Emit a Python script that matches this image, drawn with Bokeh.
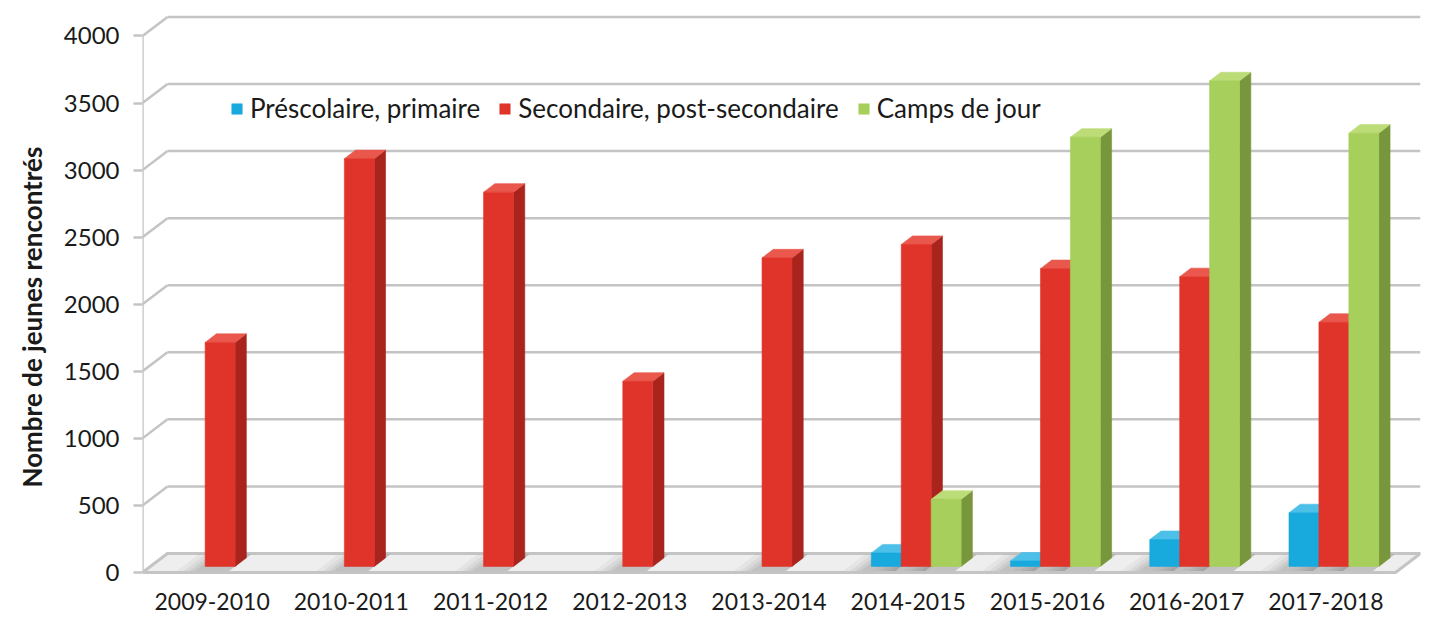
from bokeh.plotting import figure
from bokeh.models import FixedTicker, Range1d, Title, Legend, LegendItem, ColumnDataSource
from bokeh.embed import file_html
from bokeh.resources import INLINE

# ---------------- data ----------------
categories = ["2009-2010", "2010-2011", "2011-2012", "2012-2013", "2013-2014",
              "2014-2015", "2015-2016", "2016-2017", "2017-2018"]
series_names = ["Préscolaire, primaire", "Secondaire, post-secondaire", "Camps de jour"]
prescolaire = [0, 0, 0, 0, 0, 100, 40, 200, 400]
secondaire = [1670, 3040, 2790, 1380, 2300, 2400, 2220, 2160, 1820]
camps = [0, 0, 0, 0, 0, 500, 3200, 3620, 3230]
y_ticks = [0, 500, 1000, 1500, 2000, 2500, 3000, 3500, 4000]
y_title = "Nombre de jeunes rencontrés"

# ---------------- style / geometry ----------------
FONT = "Lato"
DX = 25 / 139.2          # depth offset in category units
DY = 19 / 0.13413        # depth offset in value units
F0, F1 = 0.32, 0.77      # bar front/back depth fractions
BAR_W = 0.215
OFFS = [-BAR_W, 0.0, BAR_W]
front_cols = ["#18a9dd", "#e0342b", "#a6cf5b"]
top_cols = ["#4cc0e8", "#e9574d", "#bcdc78"]
side_cols = ["#0e82ad", "#a8241c", "#78963b"]
GRID = "#c4c4c4"

n = len(categories)
p = figure(width=1422, height=620, output_backend="svg", toolbar_location=None,
           x_range=Range1d(-0.5, n - 0.5 + DX), y_range=Range1d(-30, 4160),
           min_border_left=142, min_border_right=2, min_border_top=14, min_border_bottom=44)
p.outline_line_color = None
p.xgrid.visible = False
p.ygrid.visible = False
p.background_fill_color = "white"
p.border_fill_color = "white"

# ----- walls -----
x_left = -0.5
x_right = n - 0.5
p.segment(x0=[x_left + DX] * len(y_ticks), x1=[x_right + DX] * len(y_ticks),
          y0=[v + DY for v in y_ticks], y1=[v + DY for v in y_ticks],
          line_color=GRID, line_width=2.5)
p.segment(x0=[x_left] * len(y_ticks), x1=[x_left + DX] * len(y_ticks),
          y0=y_ticks, y1=[v + DY for v in y_ticks], line_color=GRID, line_width=2.5)
p.segment(x0=[x_left], x1=[x_left], y0=[0], y1=[y_ticks[-1]], line_color=GRID, line_width=2.5)

# ----- floor -----
p.patch([x_left, x_right, x_right + DX, x_left + DX], [0, 0, DY, DY],
        fill_color="#eeeeee", line_color="#c4c4c4", line_width=3)

all_series = [prescolaire, secondaire, camps]

# ----- shadows -----
for spread, alpha in [(0.16, 0.08), (0.11, 0.09), (0.07, 0.10), (0.035, 0.12)]:
    sxs, sys_ = [], []
    for s, vals in enumerate(all_series):
        for i, v in enumerate(vals):
            if v <= 0:
                continue
            xl = i + OFFS[s] - BAR_W / 2
            xr = i + OFFS[s] + BAR_W / 2
            d0, d1 = 0.08, 0.95
            sxs.append([xl - spread + d0 * DX, xr + d0 * DX, xr + d1 * DX, xl - spread + d1 * DX])
            sys_.append([d0 * DY, d0 * DY, d1 * DY, d1 * DY])
    p.patches(sxs, sys_, fill_color="#6f6f6f", fill_alpha=alpha, line_color=None)

# ----- bars -----
ddx = (F1 - F0) * DX
ddy = (F1 - F0) * DY
sides = {"xs": [], "ys": [], "c": []}
tops = {"xs": [], "ys": [], "c": []}
fronts = []
for s, vals in enumerate(all_series):
    fx, fb, ft = [], [], []
    for i, v in enumerate(vals):
        if v <= 0:
            continue
        cx = i + OFFS[s] + F0 * DX
        b = F0 * DY
        t = F0 * DY + v
        r = cx + BAR_W / 2
        l = cx - BAR_W / 2
        sides["xs"].append([r, r + ddx, r + ddx, r])
        sides["ys"].append([b, b + ddy, t + ddy, t])
        sides["c"].append(side_cols[s])
        tops["xs"].append([l, r, r + ddx, l + ddx])
        tops["ys"].append([t, t, t + ddy, t + ddy])
        tops["c"].append(top_cols[s])
        fx.append(cx); fb.append(b); ft.append(t)
    fronts.append(dict(x=fx, bottom=fb, top=ft))

p.patches("xs", "ys", source=ColumnDataSource(sides), fill_color="c", line_color="c", line_width=0.6)
p.patches("xs", "ys", source=ColumnDataSource(tops), fill_color="c", line_color="c", line_width=0.6)
front_r = []
for s in range(3):
    r = p.vbar(x="x", bottom="bottom", top="top", width=BAR_W, source=ColumnDataSource(fronts[s]),
               fill_color=front_cols[s], line_color=front_cols[s], line_width=0.6)
    front_r.append(r)

# ----- axes -----
p.xaxis.ticker = FixedTicker(ticks=list(range(n)))
p.xaxis.major_label_overrides = {i: c for i, c in enumerate(categories)}
p.xaxis.axis_line_color = None
p.xaxis.major_tick_line_color = None
p.xaxis.major_tick_out = 0
p.xaxis.major_tick_in = 0
p.xaxis.minor_tick_line_color = None
p.xaxis.major_label_standoff = 16
p.xaxis.major_label_text_font = FONT
p.xaxis.major_label_text_font_size = "23px"
p.xaxis.major_label_text_color = "#1a1a1a"

p.yaxis.ticker = FixedTicker(ticks=y_ticks)
p.yaxis.axis_line_color = None
p.yaxis.major_tick_out = 9
p.yaxis.major_tick_in = 0
p.yaxis.major_tick_line_color = GRID
p.yaxis.major_tick_line_width = 2.5
p.yaxis.minor_tick_line_color = None
p.yaxis.major_label_standoff = 14
p.yaxis.major_label_text_font = FONT
p.yaxis.major_label_text_font_size = "24px"
p.yaxis.major_label_text_color = "#1a1a1a"

ytitle = Title(text=y_title, align="left", offset=89, standoff=22, vertical_align="top",
               text_font=FONT, text_font_style="bold", text_font_size="26px",
               text_color="#1a1a1a")
p.add_layout(ytitle, "left")

legend = Legend(items=[LegendItem(label=series_names[s], renderers=[front_r[s]]) for s in range(3)],
                orientation="horizontal", location=(88, 452))
legend.background_fill_alpha = 0
legend.border_line_color = None
legend.glyph_width = 13
legend.glyph_height = 13
legend.label_standoff = 7
legend.spacing = 18
legend.padding = 0
legend.margin = 0
legend.label_text_font = FONT
legend.label_text_font_size = "26px"
legend.label_text_color = "#1a1a1a"
legend.label_text_baseline = "middle"
p.add_layout(legend)

open("out.html", "w").write(file_html(p, INLINE))
